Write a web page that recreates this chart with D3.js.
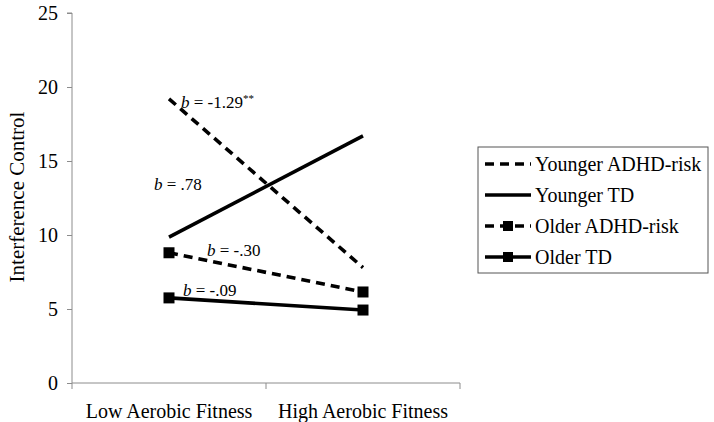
<!DOCTYPE html>
<html><head><meta charset="utf-8">
<script src="https://cdn.jsdelivr.net/npm/d3@7"></script>
<style>body{margin:0;background:#fff}svg{display:block}text{font-family:"Liberation Serif","Times New Roman",serif}</style>
</head><body>
<svg id="c" width="714" height="422"></svg>
<script>
const categories = ["Low Aerobic Fitness", "High Aerobic Fitness"];
const seriesNames = ["Younger ADHD-risk", "Younger TD", "Older ADHD-risk", "Older TD"];
const youngerADHD = [19.2, 7.8];
const youngerTD = [9.85, 16.7];
const olderADHD = [8.8, 6.15];
const olderTD = [5.75, 4.93];
const yTicks = [0, 5, 10, 15, 20, 25];
const slopeLabels = ["-1.29", ".78", "-.30", "-.09"];

const series = [
  {name: seriesNames[0], values: youngerADHD, dashed: true, marker: false, b: slopeLabels[0], stars: "**"},
  {name: seriesNames[1], values: youngerTD, dashed: false, marker: false, b: slopeLabels[1], stars: ""},
  {name: seriesNames[2], values: olderADHD, dashed: true, marker: true, b: slopeLabels[2], stars: ""},
  {name: seriesNames[3], values: olderTD, dashed: false, marker: true, b: slopeLabels[3], stars: ""}
];

const svg = d3.select("#c");
const m = {l: 72, r: 254, t: 13, b: 39};
const W = 714, H = 422;
const x = d3.scaleBand().domain(categories).range([m.l, W - m.r]);
const y = d3.scaleLinear().domain([0, 25]).range([H - m.b, m.t]);
const axisCol = "#8c8c8c";
const FS = 20;

// y axis
const ya = svg.append("g").attr("transform", `translate(${m.l},0)`)
  .call(d3.axisLeft(y).tickValues(yTicks).tickSize(5).tickPadding(9));
ya.select(".domain").attr("stroke", axisCol).attr("d", `M-5,${y(25)}H0V${y(0)}`);
ya.selectAll(".tick line").attr("stroke", axisCol);
ya.selectAll(".tick text").attr("font-size", FS).attr("fill", "#000").attr("font-family", '"Liberation Serif",serif');

// x axis
const xa = svg.append("g").attr("transform", `translate(0,${y(0)})`)
  .call(d3.axisBottom(x).tickSize(0).tickPadding(21));
xa.select(".domain").attr("stroke", axisCol).attr("d", `M${m.l},0H${W - m.r}`);
xa.selectAll(".tick text").attr("font-size", FS).attr("fill", "#000").attr("font-family", '"Liberation Serif",serif');
const bounds = [x(categories[0]), x(categories[1]), x(categories[1]) + x.bandwidth()];
xa.selectAll(".sep").data(bounds).enter().append("line")
  .attr("x1", d => d).attr("x2", d => d).attr("y1", 0).attr("y2", 6).attr("stroke", axisCol);

// axis title
svg.append("text").attr("transform", `translate(24,${(y(0)+y(25))/2 - 1}) rotate(-90)`)
  .attr("text-anchor", "middle").attr("font-size", 21).text("Interference Control");

const cx = c => x(c) + x.bandwidth() / 2;
const line = d3.line().x((d, i) => cx(categories[i])).y(d => y(d));

series.forEach(s => {
  svg.append("path").attr("d", line(s.values)).attr("fill", "none").attr("stroke", "#000")
    .attr("stroke-width", 3.6).attr("stroke-dasharray", s.dashed ? "9,6" : null);
  if (s.marker) {
    svg.selectAll(null).data(s.values).enter().append("rect")
      .attr("x", (d, i) => cx(categories[i]) - 5.5).attr("y", d => y(d) - 5.5)
      .attr("width", 11).attr("height", 11).attr("fill", "#000");
  }
});

// slope annotations (offset from each series' first point)
const ann = [
  {dx: 12, dy: 9},
  {dx: -15, dy: -47},
  {dx: 38, dy: 3},
  {dx: 14, dy: -2}
];
series.forEach((s, i) => {
  const t = svg.append("text").attr("x", cx(categories[0]) + ann[i].dx)
    .attr("y", y(s.values[0]) + ann[i].dy).attr("font-size", 17);
  t.append("tspan").attr("font-style", "italic").text("b");
  t.append("tspan").text(" = " + s.b);
  if (s.stars) t.append("tspan").attr("font-size", 11).attr("dy", -6).text(s.stars);
});

// legend
const lg = svg.append("g").attr("transform", "translate(478,147)");
lg.append("rect").attr("width", 230).attr("height", 126).attr("fill", "#fff")
  .attr("stroke", "#555").attr("stroke-width", 1);
series.forEach((s, i) => {
  const ly = 17 + i * 31;
  lg.append("line").attr("x1", 7).attr("x2", 53).attr("y1", ly).attr("y2", ly)
    .attr("stroke", "#000").attr("stroke-width", 3.6).attr("stroke-dasharray", s.dashed ? "9,6" : null);
  if (s.marker) lg.append("rect").attr("x", 25).attr("y", ly - 5).attr("width", 10).attr("height", 10).attr("fill", "#000");
  lg.append("text").attr("x", 57).attr("y", ly + 7).attr("font-size", FS).text(s.name);
});
</script>
</body></html>
